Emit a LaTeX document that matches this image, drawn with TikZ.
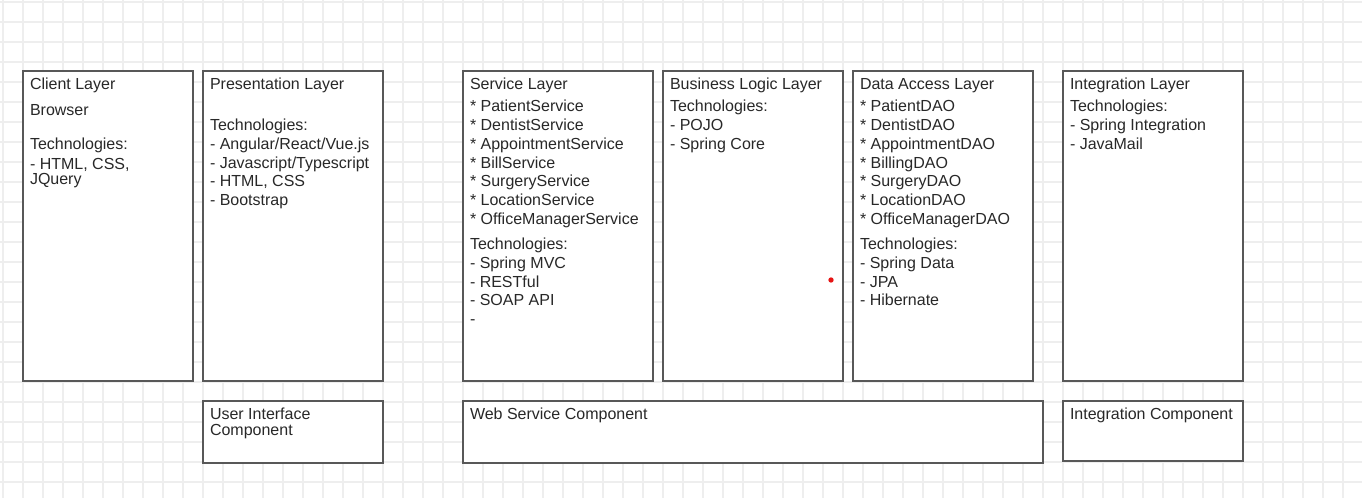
\documentclass[tikz,border=0pt]{standalone}
\usepackage{fontspec}
\setmainfont{Liberation Sans}
\definecolor{gridc}{RGB}{238,238,238}
\definecolor{boxc}{RGB}{88,88,88}
\definecolor{textc}{RGB}{40,40,40}
\definecolor{dotc}{RGB}{230,20,20}
\tikzset{
  layerbox/.style n args={2}{draw=boxc, fill=white, line width=1.5pt, inner sep=0pt, outer sep=0pt,
    minimum width=#1*0.75pt, minimum height=#2*0.75pt},
  txt/.style={anchor=base west, inner sep=0pt, outer sep=0pt, text=textc,
    font=\fontsize{12pt}{14pt}\selectfont},
  gridline/.style={draw=gridc, line width=0.9pt}
}
\newcommand\boxlines[3]{%
  \foreach \yv/\lv [count=\i] in {#3} {\node[txt] (#1l\i) at (#2,\yv) {\lv};}}
\begin{document}
\begin{tikzpicture}[x=0.75pt, y=-0.75pt]
\useasboundingbox (0,0) rectangle (1362,498);
\fill[white] (0,0) rectangle (1362,498);
% grid
\foreach \gx in {3,23,...,1343} \draw[gridline] (\gx,0) -- (\gx,498);
\foreach \gy in {2,22,...,482} \draw[gridline] (0,\gy) -- (1362,\gy);
% boxes
\node[layerbox={170}{310}] (client) at (108,226) {};
\node[layerbox={180}{310}] (pres) at (293,226) {};
\node[layerbox={190}{310}] (service) at (558,226) {};
\node[layerbox={180}{310}] (business) at (753,226) {};
\node[layerbox={180}{310}] (data) at (943,226) {};
\node[layerbox={180}{310}] (integ) at (1153,226) {};
\node[layerbox={180}{62}] (ui) at (293,432) {};
\node[layerbox={580}{62}] (web) at (753,432) {};
\node[layerbox={180}{60}] (intc) at (1153,431) {};
% texts
\boxlines{cl}{30}{90/Client Layer, 115.8/Browser, 149.3/Technologies:, 169.3/{- HTML, CSS,}, 184.8/JQuery}
\boxlines{pr}{210}{90/Presentation Layer, 130.8/Technologies:, 149.8/{- Angular/React/Vue.js}, 168.3/{- Javascript/Typescript}, 186.6/{- HTML, CSS}, 205.3/- Bootstrap}
\boxlines{sv}{470}{90/Service Layer, 111.7/* PatientService, 130.5/* DentistService, 149.3/* AppointmentService, 168.1/* BillService, 186.9/* SurgeryService, 205.7/* LocationService, 224.5/* OfficeManagerService, 249.5/Technologies:, 268.3/- Spring MVC, 287.1/- RESTful, 305.9/- SOAP API, 324.7/-}
\boxlines{bl}{670}{90/Business Logic Layer, 111.7/Technologies:, 130.5/- POJO, 149.3/- Spring Core}
\boxlines{da}{860}{90/Data Access Layer, 111.7/* PatientDAO, 130.5/* DentistDAO, 149.3/* AppointmentDAO, 168.1/* BillingDAO, 186.9/* SurgeryDAO, 205.7/* LocationDAO, 224.5/* OfficeManagerDAO, 249.5/Technologies:, 268.3/- Spring Data, 287.1/- JPA, 305.9/- Hibernate}
\boxlines{il}{1070}{90/Integration Layer, 111.7/Technologies:, 130.5/- Spring Integration, 149.3/- JavaMail}
\boxlines{ui}{210}{420/User Interface, 435.5/Component}
\boxlines{ws}{470}{420/Web Service Component}
\boxlines{ic}{1070}{420/Integration Component}
% red dot
\node[circle, fill=dotc, inner sep=0pt, minimum size=4pt] (dot) at (831,280) {};
\end{tikzpicture}
\end{document}
